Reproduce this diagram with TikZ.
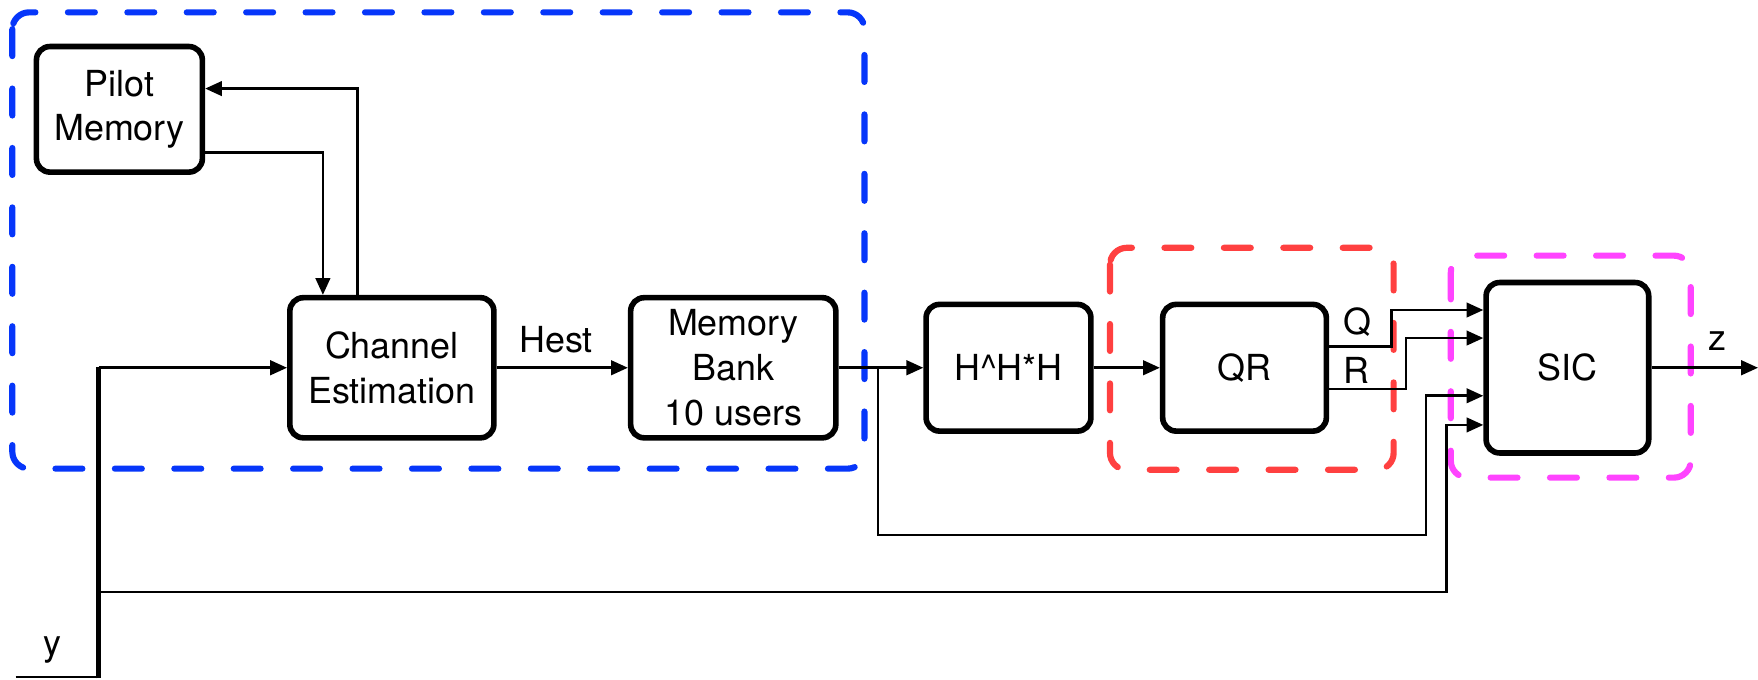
\documentclass[tikz,border=0pt]{standalone}
\usepackage{fontspec}
\setmainfont{TeX Gyre Heros}
\usetikzlibrary{arrows.meta}
\definecolor{grpblue}{HTML}{0636FA}
\definecolor{grpred}{HTML}{FF4040}
\definecolor{grpmag}{HTML}{FF44FF}
\tikzset{
  txt/.style={font=\fontsize{32}{40}\selectfont, inner sep=0pt},
  block/.style={draw, line width=5pt, rounded corners=12pt, align=center,
    font=\fontsize{32}{40}\selectfont, inner sep=0pt},
  conn/.style={line width=2.3pt, -{Triangle[length=15pt,width=13pt]}},
  trunk/.style={line width=4pt},
  group/.style={line width=5.5pt, line cap=round, rounded corners=15pt,
    dash pattern=on 24pt off 29pt}
}
\begin{document}
\begin{tikzpicture}[x=1pt,y=-1pt]
\useasboundingbox[fill=white] (0,0) rectangle (1568,606);

% processing blocks
\node[block, minimum width=148pt, minimum height=112pt] (PM) at (106.5,97.5) {Pilot\\Memory};
\node[block, minimum width=182pt, minimum height=125pt] (CE) at (349.5,328) {Channel\\Estimation};
\node[block, minimum width=183pt, minimum height=125pt] (MB) at (654,328) {Memory\\Bank\\10 users};
\node[block, minimum width=147pt, minimum height=113pt] (HH) at (899.5,328) {H\^{}H*H};
\node[block, minimum width=146pt, minimum height=113pt] (QR) at (1110,328) {QR};
\node[block, minimum width=145pt, minimum height=152pt] (SIC) at (1398,328) {SIC};

% group outlines
\draw[group, grpblue] (11,11) rectangle (771,418);
\draw[group, grpred] (990,221) rectangle (1243,419);
\draw[group, grpmag] (1294,228) rectangle (1508,426);

% labels
\node[txt] (hest) at (496,303) {Hest};
\node[txt] (qlab) at (1211,287) {Q};
\node[txt] (rlab) at (1210,330) {R};
\node[txt] (zlab) at (1532,304) {z};
\node[txt] (ylab) at (47,580) {y};

% helper points
\coordinate (yin) at (14,604);
\coordinate (ycorner) at (88,604);
\coordinate (ytop) at (88,328);
\coordinate (ysplit) at (88,528);
\coordinate (ybend) at (1290,528);
\coordinate (tapH) at (783,328);
\coordinate (hbend) at (1272,477);
\coordinate (qbend) at (1241,309);
\coordinate (rbend) at (1254,347);
\coordinate (zout) at (1568,328);

% pilot loop
\draw[conn] ([xshift=-30.5pt]CE.north) |- ([yshift=18.5pt]PM.east);
\draw[conn] ([yshift=-38.5pt]PM.east) -| ([xshift=-61.5pt]CE.north);

% received signal y
\draw[line width=2.3pt] (yin) -- (ycorner);
\draw[trunk] ([yshift=-1pt]ycorner) -- ([yshift=1pt]ytop);
\draw[conn] (ytop) -- (CE.west);
\draw[conn] (ysplit) -- (ybend) |- ([yshift=-51pt]SIC.west);

% main chain
\draw[conn] (CE.east) -- (MB.west);
\draw[conn] (MB.east) -- (HH.west);
\draw[conn] (HH.east) -- (QR.west);
\draw[conn] ([yshift=19pt]QR.east) -- (qbend) |- ([yshift=51.5pt]SIC.west);
\draw[conn] ([yshift=-19pt]QR.east) -- (rbend) |- ([yshift=26.5pt]SIC.west);
\draw[conn] (tapH) |- (hbend) |- ([yshift=-25pt]SIC.west);
\draw[conn] (SIC.east) -- (zout);
\end{tikzpicture}
\end{document}
